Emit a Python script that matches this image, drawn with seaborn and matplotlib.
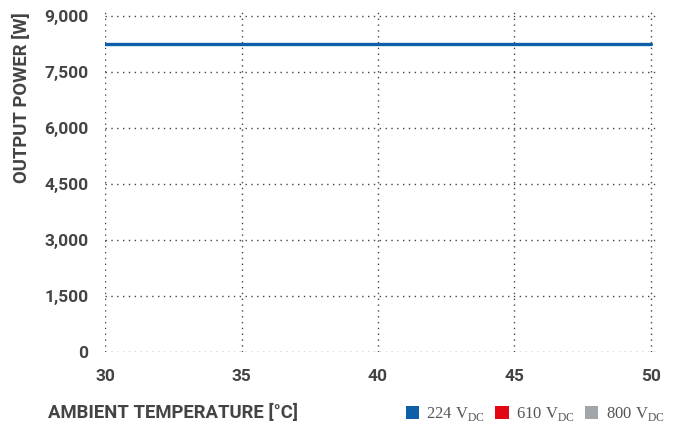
import matplotlib
matplotlib.use("Agg")
import matplotlib.pyplot as plt
import seaborn as sns
import pandas as pd
from matplotlib.patches import Patch

# data
temperature = [30, 35, 40, 45, 50]
power_224 = [8260, 8260, 8260, 8260, 8260]
series_labels = ["224 V$_{\\mathrm{DC}}$", "610 V$_{\\mathrm{DC}}$", "800 V$_{\\mathrm{DC}}$"]
series_colors = ["#0f5ea8", "#e30613", "#a2a5a9"]
x_ticks = [30, 35, 40, 45, 50]
y_ticks = [0, 1500, 3000, 4500, 6000, 7500, 9000]

sns.set_style("white")
plt.rcParams["font.family"] = ["Roboto", "DejaVu Sans"]
plt.rcParams["mathtext.fontset"] = "custom"
plt.rcParams["mathtext.rm"] = "Liberation Serif"

df = pd.DataFrame({"temp": temperature, "power": power_224})

fig = plt.figure(figsize=(6.78, 4.29), dpi=100)
ax = fig.add_axes([0.155, 0.1795, 0.817, 0.8019])

sns.lineplot(data=df, x="temp", y="power", color=series_colors[0], linewidth=2.4, ax=ax)

ax.set_xlim(30, 50.3)
ax.set_ylim(0, 9214)
ax.set_xticks(x_ticks)
ax.set_yticks(y_ticks)
ax.set_yticklabels([f"{v:,}" for v in y_ticks])
ax.grid(True, linestyle=(0, (1, 3.2)), color="#444444", linewidth=1.0)
ax.set_axisbelow(True)
for s in ax.spines.values():
    s.set_visible(False)
ax.tick_params(length=0, labelsize=12.5, labelcolor="#444444", pad=12)
for lab in ax.get_xticklabels() + ax.get_yticklabels():
    lab.set_fontweight("bold")
ax.set_xlabel("")
ax.set_ylabel("")

fig.text(0.033, 0.772, "OUTPUT POWER [W]", rotation=90, ha="center", va="center",
         fontsize=13.3, fontweight="bold", color="#444444")
fig.text(0.071, 0.037, "AMBIENT TEMPERATURE [°C]", ha="left", va="center",
         fontsize=13.3, fontweight="bold", color="#444444")

handles = [Patch(facecolor=c, edgecolor="none") for c in series_colors]
leg = fig.legend(handles, series_labels, loc="center right", bbox_to_anchor=(0.99, 0.035),
                 ncol=3, frameon=False, handlelength=0.8, handleheight=0.8,
                 handletextpad=0.45, columnspacing=0.6, borderaxespad=0,
                 prop={"family": "Liberation Serif", "size": 12})
for t in leg.get_texts():
    t.set_color("#555555")

fig.savefig("out.png", dpi=100)
